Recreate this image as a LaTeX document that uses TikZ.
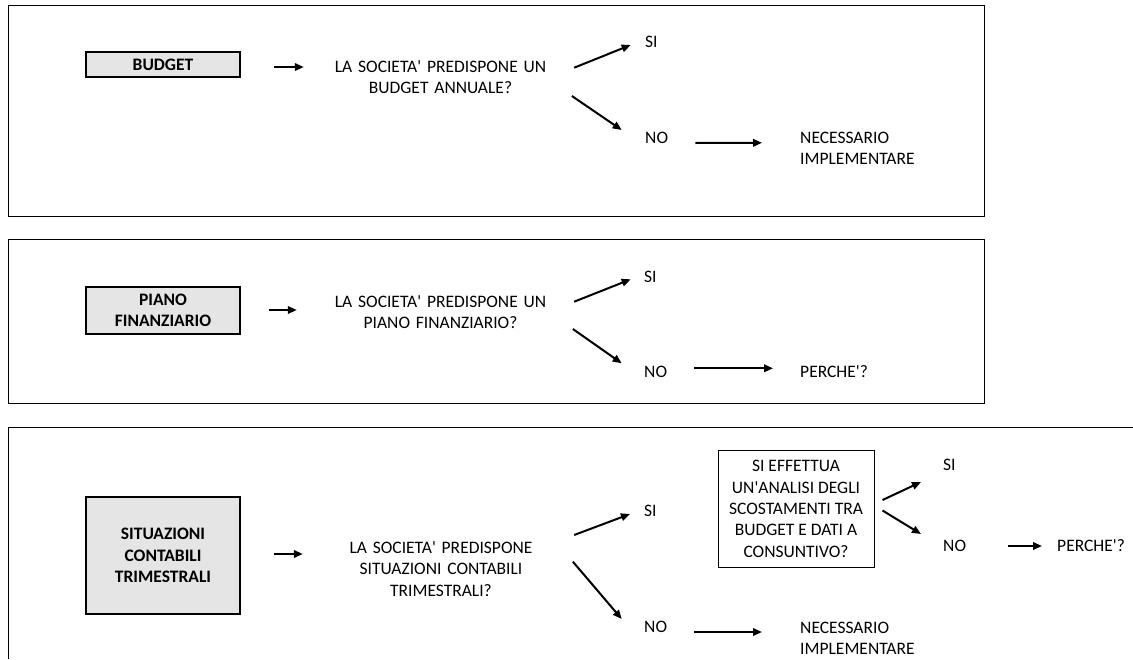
\documentclass[tikz,border=0pt]{standalone}
\usepackage{fontspec}
\newfontfamily\carlito{Carlito}
\usepackage{tikz}
\usetikzlibrary{arrows.meta}

\begin{document}
\begin{tikzpicture}[x=1pt,y=-1pt,
		panel/.style={draw,line width=1pt},
		grigio/.style={draw,line width=2.2pt,fill=gray!20,font=\carlito\bfseries\fontsize{17.5}{21.3}\selectfont,align=center,minimum width=154pt},
		domanda/.style={align=center,text width=240pt},
		freccia/.style={line width=2pt,-{Triangle[length=9pt,width=7.5pt]}}]
		\tikzstyle{every node}+=[inner sep=0pt,font=\carlito\fontsize{17.5}{21.3}\selectfont]
		\useasboundingbox (0,0) rectangle (1133,659);
		% riquadri
		\draw [panel] (8,5) rectangle (984,216);
		\draw [panel] (8,239) rectangle (984,403);
		\draw [panel] (1133,427) -- (8,427) -- (8,659);
		% budget
		\node [grigio,minimum height=25pt] (b1) at (163,64.5) {BUDGET};
		\node [domanda] (q1) at (440.5,77.3) {LA SOCIETA' PREDISPONE UN\\BUDGET ANNUALE?};
		\node [anchor=west] (si1) at (645,42) {SI};
		\node [anchor=west] (no1) at (645,137.5) {NO};
		\node [anchor=west,align=left] (nec1) at (800,148.3) {NECESSARIO\\IMPLEMENTARE};
		\draw [freccia] ([shift={(33,2.5)}]b1.east) -- ([shift={(-16.5,-10.3)}]q1.west);
		\draw [freccia] ([shift={(13.5,-9.6)}]q1.east) -- ([shift={(-14.3,3)}]si1.west);
		\draw [freccia] ([shift={(11.2,18.7)}]q1.east) -- ([shift={(-23.3,-7.5)}]no1.west);
		\draw [freccia] ([shift={(27,5.5)}]no1.east) -- ([shift={(-38,-5.5)}]nec1.west);
		% piano finanziario
		\node [grigio,minimum height=47.6pt] (b2) at (163,310.5) {PIANO\\FINANZIARIO};
		\node [domanda] (q2) at (440.5,312) {LA SOCIETA' PREDISPONE UN\\PIANO FINANZIARIO?};
		\node [anchor=west] (si2) at (644,276.7) {SI};
		\node [anchor=west] (no2) at (644,371.7) {NO};
		\node [anchor=west] (per2) at (800,371.7) {PERCHE'?};
		\draw [freccia] ([shift={(28,-0.5)}]b2.east) -- ([shift={(-23.5,-2)}]q2.west);
		\draw [freccia] ([shift={(13.5,-10.3)}]q2.east) -- ([shift={(-13.3,2.6)}]si2.west);
		\draw [freccia] ([shift={(12.2,17)}]q2.east) -- ([shift={(-22.3,-8.4)}]no2.west);
		\draw [freccia] ([shift={(26.7,-3.4)}]no2.east) -- ([shift={(-27,-3.4)}]per2.west);
		% situazioni contabili
		\node [grigio,minimum height=117.5pt] (b3) at (163,555.5) {SITUAZIONI\\CONTABILI\\TRIMESTRALI};
		\node [domanda] (q3) at (441,569) {LA SOCIETA' PREDISPONE\\SITUAZIONI CONTABILI\\TRIMESTRALI?};
		\node [anchor=west] (si3) at (644,510.7) {SI};
		\node [anchor=west] (no3) at (644,626.7) {NO};
		\node [anchor=west,align=left] (nec3) at (800,638.3) {NECESSARIO\\IMPLEMENTARE};
		\node [draw,line width=1pt,align=center,minimum width=156pt,minimum height=117.5pt] (qb) at (796,508.8) {SI EFFETTUA\\UN'ANALISI DEGLI\\SCOSTAMENTI TRA\\BUDGET E DATI A\\CONSUNTIVO?};
		\node [anchor=west] (si4) at (943,465) {SI};
		\node [anchor=west] (no4) at (943,546) {NO};
		\node [anchor=west] (per4) at (1057,546) {PERCHE'?};
		\draw [freccia] ([shift={(33,-1.5)}]b3.east) -- ([shift={(-18,-15)}]q3.west);
		\draw [freccia] ([shift={(13,-34)}]q3.east) -- ([shift={(-14,3.3)}]si3.west);
		\draw [freccia] ([shift={(11.7,-7.3)}]q3.east) -- ([shift={(-22.3,-7.7)}]no3.west);
		\draw [freccia] ([shift={(27,5.3)}]no3.east) -- ([shift={(-38,-6.3)}]nec3.west);
		\draw [freccia] ([shift={(8,-8.8)}]qb.east) -- ([shift={(-22,17)}]si4.west);
		\draw [freccia] ([shift={(8,1.7)}]qb.east) -- ([shift={(-22,-12)}]no4.west);
		\draw [freccia] ([shift={(42,0)}]no4.east) -- ([shift={(-15,0)}]per4.west);
		\end{tikzpicture}
\end{document}
